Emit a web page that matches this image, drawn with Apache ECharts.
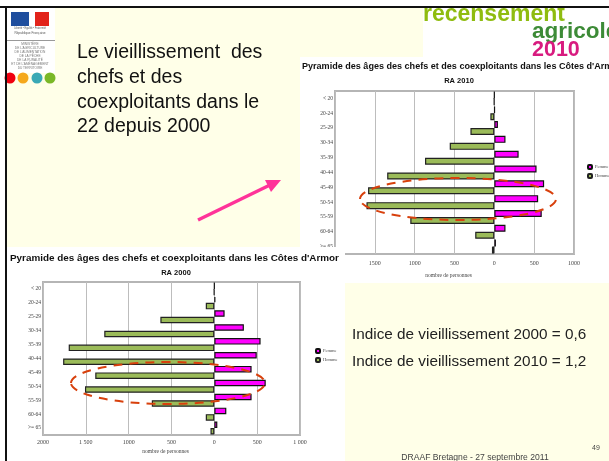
<!DOCTYPE html>
<html>
<head>
<meta charset="utf-8">
<title>Pyramide des âges</title>
<script src="https://cdn.jsdelivr.net/npm/echarts@6/dist/echarts.min.js"></script>
<style>
  html, body { margin: 0; padding: 0; background: #fff; }
  #wrap { position: relative; width: 609px; height: 461px; overflow: hidden; }
  .chart { position: absolute; left: 0; top: 0; width: 609px; height: 461px; }
</style>
</head>
<body>
<div id="wrap">
  <div id="chart2010" class="chart"></div>
  <div id="chart2000" class="chart"></div>
</div>
<script>
var ageGroups = ['< 20', '20-24', '25-29', '30-34', '35-39', '40-44', '45-49', '50-54', '55-59', '60-64', '>= 65']
var femme2000 = [0, 12, 120, 345, 540, 495, 435, 600, 435, 140, 35]
var homme2000 = [-5, -100, -630, -1285, -1700, -1765, -1390, -1510, -730, -100, -45]
var femme2010 = [0, 5, 45, 140, 305, 530, 625, 550, 595, 140, 20]
var homme2010 = [-5, -50, -300, -560, -870, -1345, -1585, -1605, -1055, -240, -30]
var ticks2000 = ['2000', '1 500', '1000', '500', '0', '500', '1 000']
var ticks2010 = ['', '1500', '1000', '500', '0', '500', '1000']
var titleText = "Pyramide des âges des chefs et des coexploitants dans les Côtes d'Armor"
var titleText2000 = "Pyramide des âges des chefs et coexploitants dans les Côtes d'Armor"
var sans = '"Liberation Sans", Arial, sans-serif'
var serif = '"Liberation Serif", "Times New Roman", serif'

function txt (x, y, text, size, color, extra) {
  return {
    type: 'text',
    z: (extra && extra.z) || 20,
    style: {
      x: x,
      y: y,
      text: text,
      fontFamily: sans,
      fontSize: size,
      fontWeight: (extra && extra.weight) || 'normal',
      fill: color,
      align: (extra && extra.align) || 'left',
      verticalAlign: 'middle',
      lineHeight: (extra && extra.lineHeight) || undefined
    }
  }
}

function rect (x, y, w, h, color, z) {
  return { type: 'rect', z: z || 1, shape: { x: x, y: y, width: w, height: h }, style: { fill: color } }
}

function dashedEllipse (cx, cy, rx, ry) {
  return {
    type: 'ellipse',
    z: 30,
    shape: { cx: cx, cy: cy, rx: rx, ry: ry },
    style: { fill: 'none', stroke: '#d8400c', lineWidth: 2, lineDash: [9, 7] }
  }
}

function pyramidOption (cfg) {
  return {
    animation: false,
    backgroundColor: 'transparent',
    legend: {
      orient: 'vertical',
      left: cfg.legendLeft,
      top: cfg.legendTop,
      itemWidth: 4,
      itemHeight: 4,
      itemGap: 3,
      padding: 0,
      selectedMode: false,
      textStyle: { fontFamily: serif, fontSize: 4.5, color: '#444', padding: [0, 0, 0, -2] },
      data: ['Femme', 'Homme']
    },
    grid: {
      show: true,
      left: cfg.left,
      top: cfg.top,
      width: cfg.width,
      height: cfg.height,
      borderColor: '#b5b5b5',
      borderWidth: 2,
      backgroundColor: '#fff',
      containLabel: false
    },
    xAxis: {
      type: 'value',
      min: -2000,
      max: 1000,
      interval: 500,
      name: 'nombre de personnes',
      nameLocation: 'middle',
      nameGap: cfg.nameGap,
      nameTextStyle: { fontFamily: serif, fontSize: 5.5, color: '#444', padding: [0, 12, 0, 0] },
      axisLine: { show: false },
      axisTick: { show: false },
      axisLabel: {
        fontFamily: serif,
        fontSize: 6,
        color: '#444',
        margin: cfg.labelMargin,
        formatter: function (value) {
          return cfg.ticks[(value + 2000) / 500]
        }
      },
      splitLine: { show: true, lineStyle: { color: '#bdbdbd', width: 1 } }
    },
    yAxis: {
      type: 'category',
      inverse: true,
      data: ageGroups,
      axisLine: { show: false },
      axisTick: { show: true, length: 1, alignWithLabel: true, lineStyle: { color: '#999' } },
      axisLabel: { fontFamily: serif, fontSize: 5.5, color: '#444', margin: 2, interval: 0 },
      splitLine: { show: false }
    },
    series: [
      {
        name: 'Femme',
        type: 'bar',
        data: cfg.femme,
        barGap: 0,
        barCategoryGap: 0,
        barWidth: cfg.barWidth,
        itemStyle: { color: '#ff00ff', borderColor: '#111', borderWidth: 1.2 }
      },
      {
        name: 'Homme',
        type: 'bar',
        data: cfg.homme,
        barGap: 0,
        barCategoryGap: 0,
        barWidth: cfg.barWidth,
        itemStyle: { color: '#9bbb59', borderColor: '#222', borderWidth: 1.2 }
      }
    ],
    graphic: { elements: cfg.graphic }
  }
}

// bottom layer: slide background, logos, text panel and the 2010 chart
var backLayer = [
  rect(0, 0, 609, 461, '#fff', -10),
  rect(7, 8, 416, 49, '#ffffe8', -9),
  rect(7, 57, 293, 190, '#ffffe8', -9),
  rect(7, 8, 48, 65, '#fff', -8),
  rect(11, 12, 18, 14, '#1f4e9e', -7),
  rect(35, 12, 14, 14, '#e2231a', -7),
  rect(7, 40, 48, 1, '#999', -7),
  txt(30, 28, 'Liberté • Égalité • Fraternité', 2.6, '#555', { align: 'center' }),
  txt(30, 33, 'République Française', 3.2, '#555', { align: 'center' }),
  txt(30, 56, 'MINISTÈRE\nDE L\'AGRICULTURE\nDE L\'ALIMENTATION\nDE LA PÊCHE\nDE LA RURALITÉ\nET DE L\'AMÉNAGEMENT\nDU TERRITOIRE', 3.2, '#777', { align: 'center', lineHeight: 4 }),
  { type: 'circle', z: 22, shape: { cx: 10, cy: 78, r: 5.5 }, style: { fill: '#f0000f' } },
  { type: 'circle', z: 22, shape: { cx: 23, cy: 78, r: 5.5 }, style: { fill: '#f5a81c' } },
  { type: 'circle', z: 22, shape: { cx: 37, cy: 78, r: 5.5 }, style: { fill: '#3aa9b5' } },
  { type: 'circle', z: 22, shape: { cx: 50, cy: 78, r: 5.5 }, style: { fill: '#7ab827' } },
  txt(77, 90, 'Le vieillissement  des\nchefs et des\ncoexploitants dans le\n22 depuis 2000', 19.5, '#111', { lineHeight: 24.7 }),
  {
    type: 'polyline',
    z: 25,
    shape: { points: [[198, 220], [272, 184]] },
    style: { stroke: '#ff3399', lineWidth: 3.5, fill: 'none' }
  },
  {
    type: 'polygon',
    z: 25,
    shape: { points: [[281, 180], [265, 180], [271, 192]] },
    style: { fill: '#ff3399' }
  },
  txt(423, 15, 'recensement', 23, '#8fbc10', { weight: 'bold' }),
  txt(532, 32, 'agricole', 22.5, '#3d8b37', { weight: 'bold' }),
  txt(532, 50, '2010', 21.5, '#d81b7f', { weight: 'bold' }),
  rect(0, 0, 609, 6, '#fff', 40),
  rect(0, 6, 609, 2, '#111', 41),
  rect(5, 6, 2, 455, '#111', 41),
  txt(302, 67, titleText, 9.05, '#111', { weight: 'bold' }),
  txt(459, 81, 'RA 2010', 7.5, '#111', { weight: 'bold', align: 'center' }),
  dashedEllipse(458, 199, 98, 21)
]

// top layer: 2000 chart on its white box, the lower text panel and the footer
var frontLayer = [
  rect(7, 247, 338, 214, '#fff', -10),
  rect(345, 283, 264, 178, '#ffffe8', -10),
  txt(10, 258, titleText2000, 9.9, '#111', { weight: 'bold' }),
  txt(176, 273, 'RA 2000', 7.5, '#111', { weight: 'bold', align: 'center' }),
  txt(352, 335, 'Indice de vieillissement 2000 = 0,6', 15.3, '#222'),
  txt(352, 362, 'Indice de vieillissement 2010 = 1,2', 15.3, '#222'),
  txt(475, 458, 'DRAAF Bretagne - 27 septembre 2011', 8.6, '#444', { align: 'center' }),
  txt(596, 448, '49', 7, '#444', { align: 'center' }),
  dashedEllipse(168, 383, 97, 21)
]

var back = echarts.init(document.getElementById('chart2010'))
back.setOption(pyramidOption({
  left: 335,
  top: 91,
  width: 239,
  height: 163,
  legendLeft: 587,
  legendTop: 164,
  nameGap: 19,
  labelMargin: 6,
  barWidth: 7,
  ticks: ticks2010,
  femme: femme2010,
  homme: homme2010,
  graphic: backLayer
}))

var front = echarts.init(document.getElementById('chart2000'))
front.setOption(pyramidOption({
  left: 43,
  top: 282,
  width: 257,
  height: 153,
  legendLeft: 315,
  legendTop: 348,
  nameGap: 14,
  labelMargin: 4,
  barWidth: 6.5,
  ticks: ticks2000,
  femme: femme2000,
  homme: homme2000,
  graphic: frontLayer
}))
</script>
</body>
</html>
